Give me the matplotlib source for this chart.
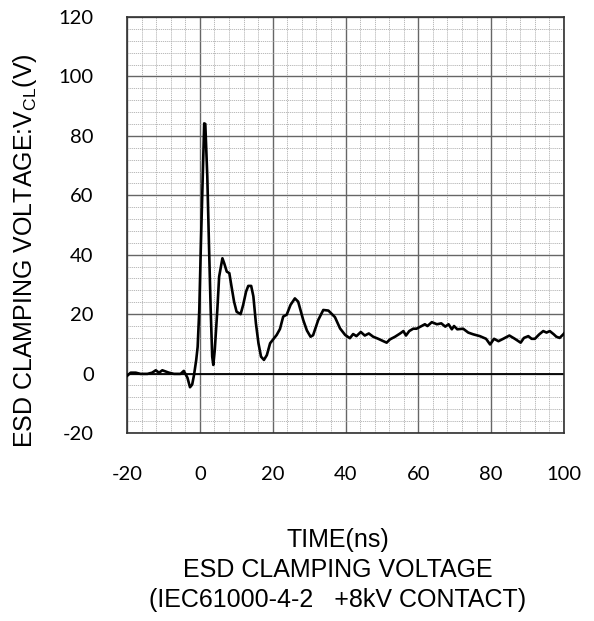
import matplotlib
matplotlib.use("Agg")
import matplotlib.pyplot as plt
from matplotlib.ticker import MultipleLocator

# ---- data ----
time_ns = [-20.0, -19.0, -17.6, -16.3, -14.4, -13.1, -12.1, -11.2, -10.3, -9.4, -8.5, -7.1,
           -5.3, -4.4, -3.4, -2.7, -2.1, -1.6, -1.0, -0.6, -0.15, 0.3, 0.8, 1.2, 1.5, 2.05,
           2.5, 2.98, 3.4, 3.7, 4.1, 4.8, 5.3, 6.2, 6.7, 7.4, 8.1, 8.7, 9.4, 10.1, 11.2, 11.9,
           12.7, 13.3, 14.1, 14.7, 15.4, 16.1, 16.8, 17.6, 18.4, 19.3, 20.2, 21.1, 22.0, 22.9,
           23.85, 24.9, 26.1, 27.0, 28.4, 29.4, 30.4, 31.1, 32.5, 33.9, 35.3, 37.1, 38.5, 39.9,
           41.2, 42.1, 43.0, 44.2, 45.3, 46.4, 47.6, 49.0, 50.4, 51.3, 52.2, 53.6, 55.0, 55.9,
           56.6, 57.5, 58.6, 59.5, 60.9, 61.8, 62.5, 63.7, 65.1, 66.3, 67.4, 68.3, 69.2, 69.8,
           70.7, 72.3, 73.7, 75.1, 76.9, 78.6, 79.7, 80.8, 82.0, 83.3, 85.0, 86.5, 88.1, 89.0,
           90.2, 91.1, 92.0, 93.2, 94.3, 95.2, 96.1, 97.2, 97.9, 98.8, 99.8, 100.0]
voltage_v = [-0.8, 0.3, 0.3, -0.1, -0.1, 0.3, 1.1, 0.3, 1.1, 0.7, 0.3, -0.1,
             -0.1, 0.9, -1.4, -4.6, -3.7, -0.5, 4.5, 9.0, 21.4, 43.9, 66.3, 84.2, 84.0, 66.3,
             43.9, 21.4, 5.7, 2.9, 7.9, 21.4, 32.6, 38.8, 37.1, 34.3, 33.8, 29.3, 24.2, 20.8, 20.0, 23.1,
             27.6, 29.5, 29.5, 26.0, 16.9, 10.2, 5.7, 4.6, 6.2, 10.2, 11.6, 13.0, 15.0, 19.2,
             19.8, 23.1, 25.3, 24.2, 18.0, 14.5, 12.4, 12.9, 18.0, 21.4, 21.2, 19.0, 15.2, 13.0,
             11.9, 13.3, 12.6, 14.0, 12.8, 13.5, 12.4, 11.7, 10.9, 10.4, 11.5, 12.4, 13.5, 14.3,
             12.8, 14.3, 15.1, 15.1, 16.0, 16.6, 16.0, 17.3, 16.6, 16.9, 15.8, 16.6, 14.9, 16.0,
             14.9, 15.1, 13.8, 13.2, 12.6, 11.7, 9.8, 11.7, 10.9, 11.7, 12.8, 11.7, 10.4, 12.0,
             12.6, 11.7, 11.7, 13.2, 14.3, 13.8, 14.3, 13.2, 12.4, 12.0, 13.2, 13.5]

x_ticks = [-20, 0, 20, 40, 60, 80, 100]
y_ticks = [-20, 0, 20, 40, 60, 80, 100, 120]
x_label = "TIME(ns)"
title_lines = ["ESD CLAMPING VOLTAGE", "(IEC61000-4-2   +8kV CONTACT)"]
y_label = r"ESD CLAMPING VOLTAGE:V$_{\mathregular{CL}}$(V)"

plt.rcParams["font.family"] = ["Liberation Sans", "DejaVu Sans"]
plt.rcParams["mathtext.fontset"] = "custom"
plt.rcParams["mathtext.rm"] = "Liberation Sans"
plt.rcParams["mathtext.it"] = "Liberation Sans"
plt.rcParams["mathtext.default"] = "regular"
plt.rcParams["axes.unicode_minus"] = False

fig = plt.figure(figsize=(5.94, 6.21), dpi=100)
ax = fig.add_axes([127 / 594, 1 - 433 / 621, (564 - 127) / 594, (433 - 17) / 621])

ax.set_xlim(-20, 100)
ax.set_ylim(-20, 120)
ax.set_xticks(x_ticks)
ax.set_yticks(y_ticks)
ax.set_xticklabels([str(t) for t in x_ticks])
ax.set_yticklabels([str(t) for t in y_ticks])
ax.xaxis.set_minor_locator(MultipleLocator(4))
ax.yaxis.set_minor_locator(MultipleLocator(4))

ax.grid(which="minor", color="#b0b0b0", linestyle=(0, (1.5, 1.0)), linewidth=0.6)
ax.grid(which="major", color="#666666", linestyle="-", linewidth=1.0)
ax.axhline(0, color="black", linewidth=1.3, zorder=2)
ax.set_axisbelow(True)

ax.plot(time_ns, voltage_v, color="black", linewidth=1.9, zorder=3, solid_joinstyle="round")

for s in ax.spines.values():
    s.set_color("#303030")
    s.set_linewidth(1.2)

ax.tick_params(which="both", length=0)
ax.tick_params(axis="x", pad=24)
ax.tick_params(axis="y", pad=24)
for lab in ax.get_xticklabels() + ax.get_yticklabels():
    lab.set_fontfamily("Lato")
    lab.set_fontsize(14.5)

fig.text(25 / 594, 1 - 251 / 621, y_label, rotation=90, ha="center", va="center", fontsize=18)
fig.text(338 / 594, 1 - 540 / 621, x_label, ha="center", va="center", fontsize=18)
fig.text(338 / 594, 1 - 570 / 621, title_lines[0], ha="center", va="center", fontsize=18)
fig.text(338 / 594, 1 - 600 / 621, title_lines[1], ha="center", va="center", fontsize=18)

fig.savefig("out.png", dpi=100)
